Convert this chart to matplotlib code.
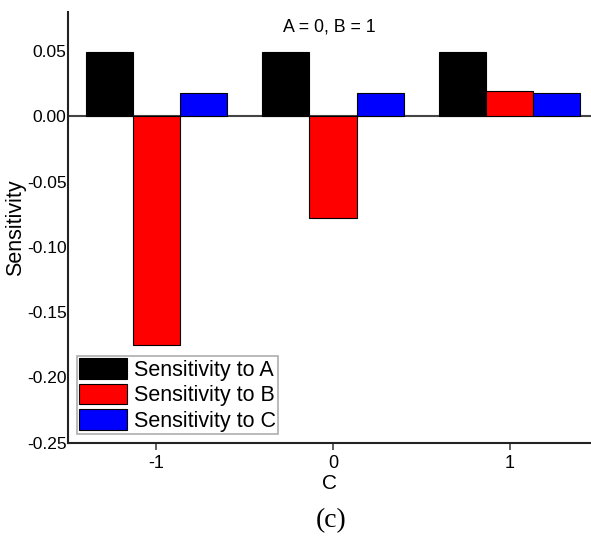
import matplotlib.pyplot as plt
import numpy as np

# Données
c_values = [-1, 0, 1]
tick_labels = ["-1", "0", "1"]
sens_a = [0.049, 0.049, 0.049]
sens_b = [-0.175, -0.078, 0.019]
sens_c = [0.018, 0.018, 0.018]
y_ticks = [-0.25, -0.20, -0.15, -0.10, -0.05, 0.00, 0.05]

plt.rcParams['font.family'] = ['Liberation Sans', 'DejaVu Sans']

fig = plt.figure(figsize=(5.91, 5.38), dpi=100)
ax = fig.add_axes([0.115, 0.177, 0.885, 0.801])

x = np.array(c_values, dtype=float)
w = 0.8 / 3
ax.bar(x - w, sens_a, w, color="black", edgecolor="black", lw=0.8, label="Sensitivity to A")
ax.bar(x, sens_b, w, color="red", edgecolor="black", lw=0.8, label="Sensitivity to B")
ax.bar(x + w, sens_c, w, color="blue", edgecolor="black", lw=0.8, label="Sensitivity to C")

ax.axhline(0, color="#444444", lw=1.5, zorder=0)

ax.set_xlim(-1.5, 1.46)
ax.set_ylim(-0.25, 0.08)
ax.set_xticks(c_values)
ax.set_xticklabels(tick_labels)
ax.set_yticks(y_ticks)
ax.set_yticklabels([f"{v:.2f}" for v in y_ticks])

for side in ["top", "right"]:
    ax.spines[side].set_visible(False)
for side in ["left", "bottom"]:
    ax.spines[side].set_linewidth(1.5)
    ax.spines[side].set_color("#222222")

ax.tick_params(axis="x", direction="out", length=5, width=1.2, color="#444444",
               labelsize=13, pad=3.5)
ax.tick_params(axis="y", length=0, labelsize=12.5, pad=1)

ax.set_xlabel("C", fontsize=15, labelpad=2)
ax.set_ylabel("Sensitivity", fontsize=15.5)
ax.yaxis.set_label_coords(-0.1, 0.5)
ax.yaxis.label.set_va("center")
ax.text(0.5, 0.985, "A = 0, B = 1", transform=ax.transAxes, ha="center", va="top", fontsize=12.8)

leg = ax.legend(loc="lower left", fontsize=15.5, frameon=True, fancybox=False,
                handlelength=2.25, handleheight=1.1, handletextpad=0.33,
                labelspacing=0.14, borderpad=0.1, borderaxespad=0.4)
leg.get_frame().set_edgecolor("#999999")
leg.get_frame().set_linewidth(1.2)

fig.text(0.561, 0.032, "(c)", ha="center", va="center", fontsize=20, family="Liberation Serif")

fig.savefig("out.png", dpi=100)
